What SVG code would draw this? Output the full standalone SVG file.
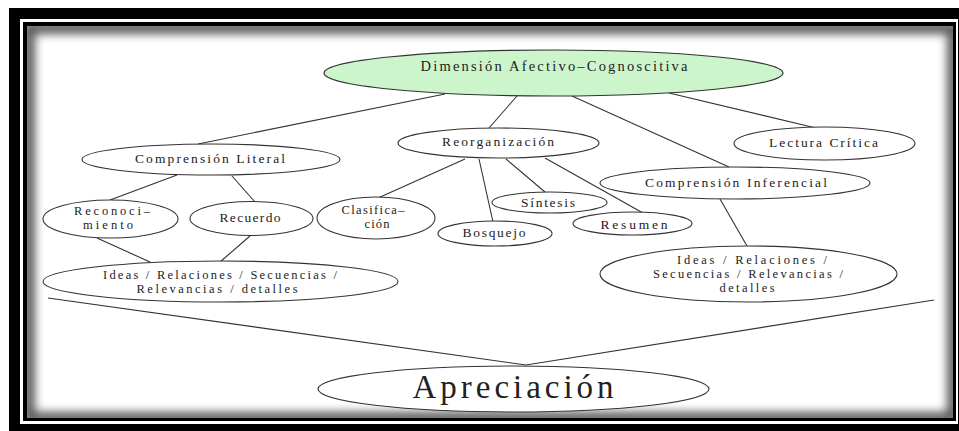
<svg xmlns="http://www.w3.org/2000/svg" width="959" height="431" viewBox="0 0 959 431">
  <defs>
    <style>
      .node ellipse { fill: #ffffff; stroke: #333333; stroke-width: 1.1; }
      .node text { font-family: "Liberation Serif", "Times New Roman", serif; font-size: 13.5px; fill: #222222; text-anchor: middle; }
      .node text.ml { font-size: 12.5px; }
      #connectors line, #connectors polyline { stroke: #333333; stroke-width: 1.1; fill: none; }
    </style>
    <clipPath id="content">
      <rect x="27" y="26" width="926" height="392"/>
    </clipPath>
    <filter id="blur" x="-5%" y="-5%" width="110%" height="110%">
      <feGaussianBlur stdDeviation="5"/>
    </filter>
  </defs>

  <!-- frame -->
  <rect x="0" y="0" width="959" height="431" fill="#ffffff"/>
  <rect x="9" y="8" width="960" height="430" fill="#000000"/>
  <rect x="20" y="19" width="938" height="405" fill="#ffffff"/>
  <rect x="23" y="22" width="933" height="399" fill="#000000"/>
  <rect x="27" y="26" width="926" height="392" fill="#ffffff"/>
  <g clip-path="url(#content)">
    <rect x="29" y="28" width="924" height="390" fill="none" stroke="#000000" stroke-width="12" filter="url(#blur)" opacity="0.65"/>
  </g>

  <!-- connectors -->
  <g id="connectors">
    <line x1="445" y1="94" x2="198" y2="144"/>
    <line x1="517" y1="96" x2="489" y2="128"/>
    <line x1="572" y1="96" x2="729" y2="167"/>
    <line x1="669" y1="93" x2="816" y2="128"/>
    <line x1="177" y1="175" x2="110" y2="200"/>
    <line x1="232" y1="176" x2="255" y2="202"/>
    <line x1="465" y1="159" x2="378" y2="198"/>
    <line x1="479" y1="159" x2="493" y2="222"/>
    <line x1="506" y1="159" x2="545" y2="192"/>
    <line x1="545" y1="158" x2="643" y2="213"/>
    <line x1="720" y1="199" x2="747" y2="246"/>
    <line x1="97" y1="238" x2="150" y2="262"/>
    <line x1="250" y1="236" x2="220" y2="262"/>
    <polyline points="48,298 526,365 934,300"/>
  </g>

  <!-- nodes -->
  <g id="n-dimension" class="node">
    <ellipse cx="553.5" cy="73" rx="229.5" ry="23" style="fill:#ccf5cc"/>
    <text x="554" y="71" textLength="267" lengthAdjust="spacing" style="font-size:14.5px">Dimensión Afectivo–Cognoscitiva</text>
  </g>
  <g id="n-literal" class="node">
    <ellipse cx="211" cy="159.5" rx="129" ry="15.5"/>
    <text x="210" y="163" textLength="150" lengthAdjust="spacing">Comprensión Literal</text>
  </g>
  <g id="n-reorganizacion" class="node">
    <ellipse cx="498.5" cy="143" rx="100.5" ry="15"/>
    <text x="498" y="146" textLength="112" lengthAdjust="spacing">Reorganización</text>
  </g>
  <g id="n-critica" class="node">
    <ellipse cx="824.5" cy="143.5" rx="90.5" ry="16.5"/>
    <text x="823.5" y="147" textLength="109" lengthAdjust="spacing">Lectura Crítica</text>
  </g>
  <g id="n-inferencial" class="node">
    <ellipse cx="735" cy="183" rx="135" ry="16"/>
    <text x="736" y="187" textLength="182" lengthAdjust="spacing">Comprensión Inferencial</text>
  </g>
  <g id="n-reconocimiento" class="node">
    <ellipse cx="110.5" cy="219" rx="67.5" ry="19"/>
    <text class="ml" x="112" y="215" textLength="76" lengthAdjust="spacing">Reconoci–</text>
    <text class="ml" x="108" y="229" textLength="50" lengthAdjust="spacing">miento</text>
  </g>
  <g id="n-recuerdo" class="node">
    <ellipse cx="251.5" cy="218.5" rx="61.5" ry="17"/>
    <text x="250" y="222" textLength="61" lengthAdjust="spacing">Recuerdo</text>
  </g>
  <g id="n-clasificacion" class="node">
    <ellipse cx="376" cy="218" rx="59" ry="21"/>
    <text class="ml" x="373" y="214" textLength="63" lengthAdjust="spacing">Clasifica–</text>
    <text class="ml" x="377" y="228" textLength="25" lengthAdjust="spacing">ción</text>
  </g>
  <g id="n-sintesis" class="node">
    <ellipse cx="549.5" cy="202.5" rx="57.5" ry="10.5"/>
    <text x="548" y="207" textLength="54" lengthAdjust="spacing">Síntesis</text>
  </g>
  <g id="n-bosquejo" class="node">
    <ellipse cx="495" cy="233.5" rx="57" ry="12.5"/>
    <text x="494" y="237" textLength="63" lengthAdjust="spacing">Bosquejo</text>
  </g>
  <g id="n-resumen" class="node">
    <ellipse cx="632.5" cy="223.5" rx="59.5" ry="11.5"/>
    <text x="634" y="229" textLength="67" lengthAdjust="spacing">Resumen</text>
  </g>
  <g id="n-ideas-literal" class="node">
    <ellipse cx="220.5" cy="281.5" rx="177.5" ry="20.5"/>
    <text class="ml" x="220" y="279" textLength="234" lengthAdjust="spacing">Ideas / Relaciones / Secuencias /</text>
    <text class="ml" x="217" y="293" textLength="161" lengthAdjust="spacing">Relevancias / detalles</text>
  </g>
  <g id="n-ideas-inferencial" class="node">
    <ellipse cx="748.5" cy="274" rx="148.5" ry="28"/>
    <text class="ml" x="752" y="264" textLength="150" lengthAdjust="spacing">Ideas / Relaciones /</text>
    <text class="ml" x="748" y="278" textLength="190" lengthAdjust="spacing">Secuencias / Relevancias /</text>
    <text class="ml" x="747" y="292" textLength="55" lengthAdjust="spacing">detalles</text>
  </g>
  <g id="n-apreciacion" class="node">
    <ellipse cx="513.5" cy="389" rx="195.5" ry="23"/>
    <text x="513" y="398" textLength="201" lengthAdjust="spacing" style="font-size:33px">Apreciación</text>
  </g>
</svg>
